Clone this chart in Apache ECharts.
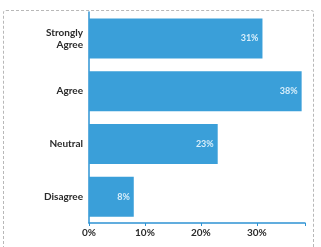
<!DOCTYPE html>
<html>
<head>
<meta charset="utf-8">
<script src="https://cdn.jsdelivr.net/npm/echarts@6/dist/echarts.min.js"></script>
<style>
  html, body { margin: 0; padding: 0; background: #fff; }
  #view { width: 321px; height: 247px; position: relative; }
  #frame { position: absolute; left: 3px; top: 10px; width: 311px; height: 250px;
           border: 1px dashed #b8b8b8; border-radius: 3px; box-sizing: border-box; }
</style>
</head>
<body>
<div id="frame"></div>
<div id="view"></div>
<script>
var categories = ['Strongly\nAgree', 'Agree', 'Neutral', 'Disagree'];
var values = [31, 38, 23, 8];
var tickValues = [0, 10, 20, 30];

var myChart = echarts.init(document.getElementById('view'));
var option = {
    animation: false,
    grid: { left: 89, right: 16, top: 12, bottom: 24 },
    xAxis: {
        type: 'value', min: 0, max: 38.6, interval: 10,
        axisLine: { show: true, lineStyle: { color: '#2e93d3', width: 1.5 } },
        axisTick: { show: true, length: 3, lineStyle: { color: '#2e93d3' } },
        splitLine: { show: false },
        axisLabel: {
            color: '#2a2a2a', fontSize: 10, fontWeight: 'bold', fontFamily: 'Lato',
            margin: 5,
            formatter: function (v) { return tickValues.indexOf(v) >= 0 ? v + '%' : ''; }
        }
    },
    yAxis: {
        type: 'category', data: categories, inverse: true,
        axisLine: { show: true, lineStyle: { color: '#2e93d3', width: 1.5 } },
        axisTick: { show: false },
        axisLabel: {
            color: '#2a2a2a', fontSize: 10, fontWeight: 'bold', fontFamily: 'Lato',
            lineHeight: 12, margin: 6
        }
    },
    series: [{
        type: 'bar', data: values, barWidth: 40,
        itemStyle: { color: '#3a9fd9' },
        label: {
            show: true, position: 'insideRight', distance: 4,
            color: '#d8eefa', fontSize: 9, fontWeight: 'bold', fontFamily: 'Lato',
            formatter: '{c}%'
        }
    }]
};
myChart.setOption(option);
</script>
</body>
</html>
